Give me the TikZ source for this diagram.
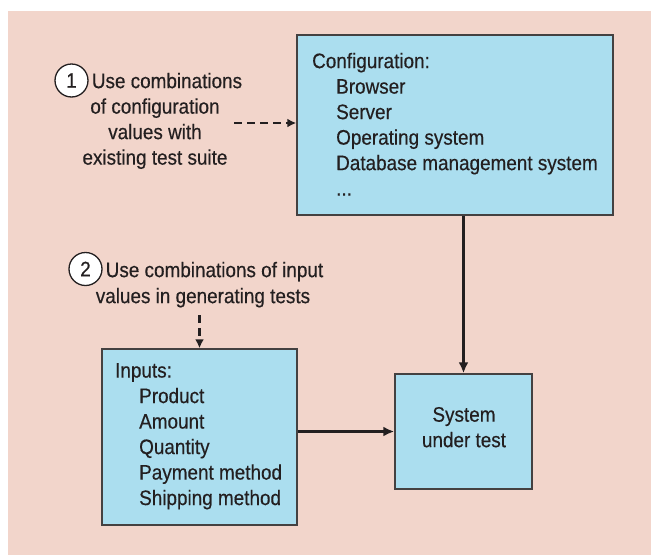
\documentclass[tikz,border=0pt]{standalone}
\usepackage{fontspec}
\setmainfont[FakeStretch=0.9,FakeBold=0.4]{Liberation Sans}
\usetikzlibrary{arrows.meta}
\definecolor{bg}{RGB}{242,213,203}
\definecolor{boxblue}{RGB}{171,222,239}
\definecolor{ink}{RGB}{35,31,32}
\begin{document}
\begin{tikzpicture}[x=1pt,y=-1pt,
  txt/.style={font=\fontsize{21}{25.5}\selectfont, text=ink, inner sep=0pt},
  box/.style={draw=ink!85, line width=1.5pt, fill=boxblue, inner sep=0pt},
  arr/.style={draw=ink, line width=2.5pt, -{Latex[length=11pt,width=10pt]}},
  darr/.style={draw=ink, line width=2.5pt, dash pattern=on 8pt off 5pt, -{Latex[length=9pt,width=9pt]}},
  num/.style={circle, draw=ink, line width=1.3pt, fill=white, minimum size=33pt, inner sep=0pt, font=\fontsize{21}{24}\selectfont, text=ink}]
\useasboundingbox (0,0) rectangle (651,555);
\fill[bg] (8,11) rectangle (651,555);
% boxes
\node[box, minimum width=316pt, minimum height=180pt] (conf) at (455,125) {};
\node[box, minimum width=195pt, minimum height=176pt] (inp) at (199.5,437) {};
\node[box, minimum width=137pt, minimum height=115pt] (sut) at (463.5,431.5) {};
% box texts
\node[txt, align=left, anchor=north west] (conftxt) at (312,52.7)
  {Configuration:\\\hspace*{24pt}Browser\\\hspace*{24pt}Server\\\hspace*{24pt}Operating system\\\hspace*{24pt}Database management system\\\hspace*{24pt}...};
\node[txt, align=left, anchor=north west] (inptxt) at (115,362.9)
  {Inputs:\\\hspace*{24pt}Product\\\hspace*{24pt}Amount\\\hspace*{24pt}Quantity\\\hspace*{24pt}Payment method\\\hspace*{24pt}Shipping method};
\node[txt, align=center, anchor=north] (suttxt) at (464,406.8) {System\\under test};
% annotations
\node[txt, align=center, anchor=north] (a1) at (155,72.7)
  {\hspace*{24pt}Use combinations\\of configuration\\values with\\existing test suite};
\node[num] (c1) at (71.5,80.5) {1};
\node[txt, align=center, anchor=north, font=\fontsize{21}{26}\selectfont] (a2) at (203,261.7)
  {\hspace*{23pt}Use combinations of input\\values in generating tests};
\node[num] (c2) at (85.5,269) {2};
% connectors
\coordinate (d1) at (234,123);
\draw[darr] (d1) -- (d1 -| conf.west);
\coordinate (d2) at (199.5,315);
\draw[darr] (d2) -- (inp.north);
\draw[arr] (conf.south -| sut.north) -- (sut.north);
\draw[arr] (inp.east |- sut.west) -- (sut.west);
\end{tikzpicture}
\end{document}
